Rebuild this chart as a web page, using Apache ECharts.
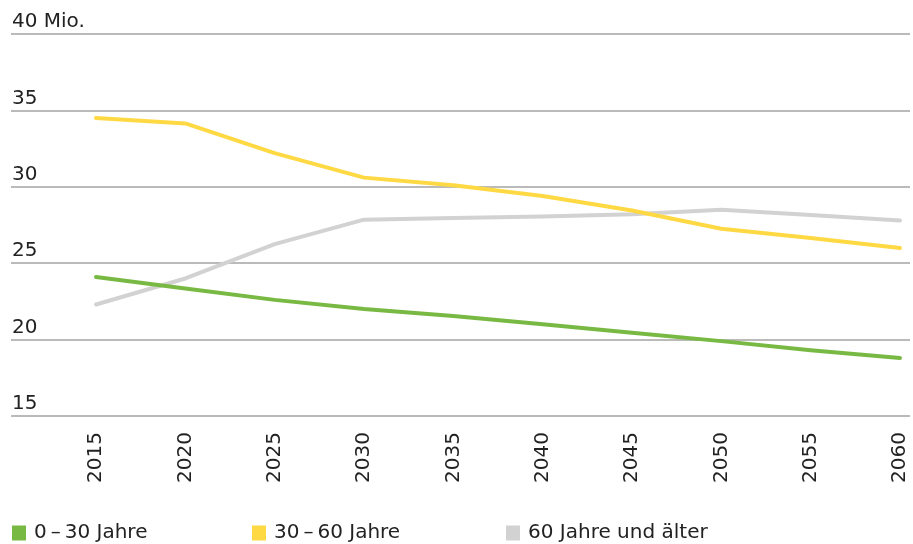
<!DOCTYPE html>
<html>
<head>
<meta charset="utf-8">
<script src="https://cdn.jsdelivr.net/npm/echarts@6/dist/echarts.min.js"></script>
<style>html,body{margin:0;padding:0;background:#fff}#c{width:913px;height:544px}</style>
</head>
<body>
<div id="c"></div>
<script>
const years = [2015, 2020, 2025, 2030, 2035, 2040, 2045, 2050, 2055, 2060];
const seriesNames = ['0\u2009\u2013\u200930 Jahre', '30\u2009\u2013\u200960 Jahre', '60 Jahre und älter'];
const young = [24.1, 23.35, 22.6, 22.0, 21.55, 21.0, 20.45, 19.9, 19.3, 18.8];
const middle = [34.5, 34.15, 32.2, 30.6, 30.1, 29.4, 28.45, 27.25, 26.65, 26.0];
const old = [22.3, 24.0, 26.25, 27.85, 27.95, 28.05, 28.2, 28.5, 28.15, 27.8];
const yTicks = [15, 20, 25, 30, 35, 40];

const colors = ['#78b943', '#ffd944', '#d2d2d2'];
const font = 'DejaVu Sans';
const pair = (arr) => years.map((y, i) => [y, arr[i]]);

const chart = echarts.init(document.getElementById('c'));
chart.setOption({
  animation: false,
  grid: { left: 11, right: 3, top: 34, bottom: 128, containLabel: false },
  xAxis: {
    type: 'value',
    min: 2010.243,
    max: 2060.56,
    splitLine: { show: false },
    axisLine: { show: false },
    axisTick: { show: false },
    axisLabel: {
      customValues: years,
      rotate: 90,
      margin: 16,
      color: '#222',
      fontFamily: font,
      fontSize: 20,
      formatter: (v) => String(Math.round(v))
    }
  },
  yAxis: {
    type: 'value',
    min: yTicks[0],
    max: yTicks[yTicks.length - 1],
    interval: 5,
    axisLine: { show: false },
    axisTick: { show: false },
    splitLine: { show: true, lineStyle: { color: '#a3a3a3', width: 1.5 } },
    axisLabel: {
      inside: true,
      margin: 1,
      align: 'left',
      verticalAlign: 'bottom',
      padding: [0, 0, 2, 0],
      color: '#222',
      fontFamily: font,
      fontSize: 20,
      formatter: (v) => v === 40 ? '40 Mio.' : String(v)
    }
  },
  legend: [0, 1, 2].map((i) => ({
    data: [seriesNames[i]],
    left: [7, 247, 501][i],
    top: 518,
    icon: 'rect',
    itemWidth: 14,
    itemHeight: 15,
    textStyle: { color: '#222', fontFamily: font, fontSize: 20, padding: [0, 0, 0, 3] }
  })),
  series: [young, middle, old].map((d, i) => ({
    name: seriesNames[i],
    type: 'line',
    data: pair(d),
    showSymbol: false,
    symbol: 'none',
    z: [3, 2, 1][i],
    lineStyle: { color: colors[i], width: 4, cap: 'round', join: 'round' },
    itemStyle: { color: colors[i] }
  }))
});
</script>
</body>
</html>
